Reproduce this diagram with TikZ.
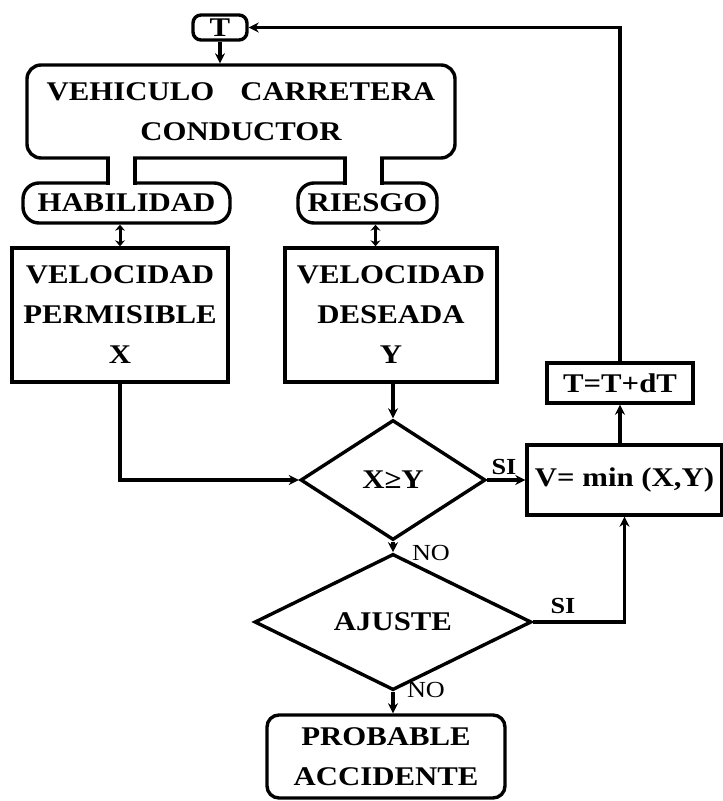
\documentclass[tikz,border=0pt]{standalone}
\usepackage{fontspec}
\setmainfont{Liberation Serif}[FakeStretch=1.14]
\usetikzlibrary{shapes.geometric,arrows.meta}
\newcommand\myBig{\bfseries\fontsize{27}{40}\selectfont}
\newcommand\myLbl{\fontsize{23}{24}\selectfont}
\begin{document}
\begin{tikzpicture}[x=1pt,y=-1pt,
  shp/.style={draw,line width=3.4pt,inner sep=0pt,font=\myBig},
  tbox/.style={shp,align=center},
  rbox/.style={tbox,rounded corners=13pt},
  pill/.style={shp,rounded corners=16pt},
  dia/.style={shp,diamond,align=center},
  conn/.style={line width=3.2pt,-{Stealth[length=10pt,width=10pt]}},
  dbl/.style={line width=3pt,{Stealth[length=6pt,width=10pt]}-{Stealth[length=6pt,width=10pt]}},
  lbl/.style={inner sep=0pt,font=\myLbl}]
\useasboundingbox (0,0) rectangle (723,801);
% nodes
\node[pill,rounded corners=8pt,minimum width=54pt,minimum height=25pt] (t) at (220,27.5) {T};
\node[rbox,rounded corners=14pt,minimum width=428pt,minimum height=93pt] (env) at (241,111.5) {VEHICULO\hspace{26pt}CARRETERA\\CONDUCTOR};
\node[pill,minimum width=207pt,minimum height=40pt] (hab) at (126.5,203) {HABILIDAD};
\node[pill,minimum width=139pt,minimum height=40pt] (ri) at (367.5,203) {RIESGO\hspace{20pt}};
\node[tbox,minimum width=216pt,minimum height=134pt] (bx) at (120,315) {VELOCIDAD\\PERMISIBLE\\X};
\node[tbox,minimum width=212pt,minimum height=134pt] (by) at (391,315) {VELOCIDAD\\DESEADA\\Y};
\node[dia,minimum width=185pt,minimum height=120pt] (d1) at (393,480) {X≥Y};
\node[tbox,minimum width=195pt,minimum height=70pt] (vb) at (624.5,480) {V= min (X,Y)};
\node[tbox,minimum width=146pt,minimum height=40pt] (tdt) at (620,383) {T=T+dT};
\node[dia,minimum width=277pt,minimum height=100pt] (aj) at (393,622) {AJUSTE};
\node[rbox,rounded corners=12pt,minimum width=238pt,minimum height=83pt] (pr) at (386,756.5) {PROBABLE\\ACCIDENTE};
% legs joining the top box to the two pills
\fill[white] (110,151) rectangle (133,190);
\fill[white] (347,151) rectangle (380,190);
\draw[line width=3.4pt] (108,156.5) -- (108,184.5) (135,156.5) -- (135,184.5)
  (345,156.5) -- (345,184.5) (382,156.5) -- (382,184.5);
% labels
\node[lbl,font=\myLbl\bfseries] (si1) at (504,467) {SI};
\node[lbl] (no1) at (431,553) {NO};
\node[lbl,font=\myLbl\bfseries] (si2) at (563,606) {SI};
\node[lbl] (no2) at (426,690) {NO};
% connectors
\draw[conn] (t.south) -- (t.south |- env.north);
\draw[dbl] (hab.south -| bx.north) -- (bx.north);
\draw[dbl] ([xshift=8pt]ri.south) -- ([xshift=8pt]ri.south |- by.north);
\draw[conn] (bx.south) |- (d1.west);
\draw[conn] (d1.north |- by.south) -- (d1.north);
\draw[conn] (d1.east) -- (vb.west);
\draw[conn] (tdt.south |- vb.north) -- (tdt.south);
\draw[conn] (tdt.north) |- (t.east);
\draw[conn] (d1.south) -- (aj.north);
\draw[conn] (aj.east) -| (vb.south);
\draw[conn] (aj.south) -- (aj.south |- pr.north);
\end{tikzpicture}
\end{document}
